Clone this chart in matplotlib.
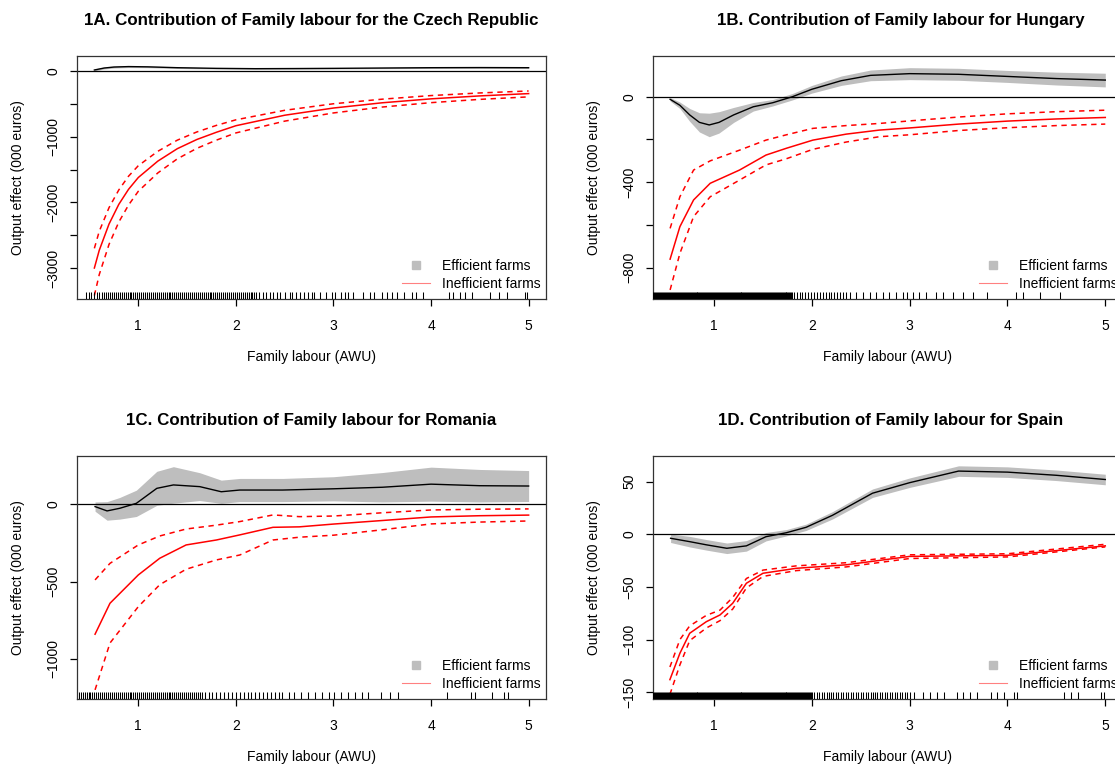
import matplotlib
matplotlib.use("Agg")
import matplotlib.pyplot as plt
from matplotlib.lines import Line2D
import numpy as np

plt.rcParams['font.family'] = ['Liberation Sans', 'DejaVu Sans']

# ---------------- data ----------------
titles = ["1A. Contribution of Family labour for the Czech Republic",
          "1B. Contribution of Family labour for Hungary",
          "1C. Contribution of Family labour for Romania",
          "1D. Contribution of Family labour for Spain"]

# Czech Republic
cz_eff_x = [0.55, 0.65, 0.75, 0.9, 1.1, 1.4, 1.8, 2.2, 2.6, 3.0, 3.5, 4.0, 4.5, 5.0]
cz_eff_y = [20, 50, 65, 72, 68, 55, 45, 40, 42, 45, 50, 55, 57, 55]
cz_eff_lo = [5, 35, 50, 57, 55, 43, 35, 30, 32, 35, 40, 44, 45, 42]
cz_eff_hi = [35, 65, 80, 87, 81, 67, 55, 50, 52, 55, 60, 66, 69, 68]
cz_ineff_x = [0.55, 0.6, 0.7, 0.8, 0.9, 1.0, 1.2, 1.4, 1.6, 1.8, 2.0, 2.5, 3.0, 3.5, 4.0, 4.5, 5.0]
cz_ineff_y = [-3000, -2730, -2330, -2030, -1800, -1620, -1370, -1180, -1040, -930, -830, -670, -560, -480, -420, -375, -340]
cz_ineff_up = [-2700, -2440, -2080, -1810, -1600, -1440, -1220, -1050, -925, -825, -740, -595, -495, -425, -370, -330, -300]
cz_ineff_lo = [-3420, -3100, -2640, -2300, -2040, -1830, -1550, -1335, -1175, -1050, -940, -760, -635, -545, -478, -428, -390]

# Hungary
hu_eff_x = [0.55, 0.65, 0.75, 0.85, 0.95, 1.05, 1.2, 1.4, 1.6, 1.8, 2.0, 2.3, 2.6, 3.0, 3.5, 4.0, 4.5, 5.0]
hu_eff_y = [-12, -40, -85, -120, -132, -120, -85, -47, -28, 0, 35, 75, 100, 108, 105, 95, 85, 78]
hu_eff_hw = [8, 15, 30, 45, 55, 50, 35, 20, 15, 15, 18, 22, 25, 28, 28, 28, 30, 32]
hu_ineff_x = [0.55, 0.65, 0.79, 0.96, 1.26, 1.53, 1.74, 2.01, 2.35, 2.69, 3.0, 3.5, 4.0, 4.5, 5.0]
hu_ineff_y = [-760, -608, -483, -405, -343, -273, -241, -203, -175, -156, -146, -128, -114, -104, -97]
hu_ineff_up = [-616, -468, -343, -300, -250, -203, -178, -148, -135, -125, -113, -95, -80, -70, -63]
hu_ineff_lo = [-904, -733, -561, -468, -390, -319, -290, -246, -212, -187, -178, -158, -145, -135, -128]

# Romania
ro_eff_x = [0.557, 0.68, 0.81, 0.98, 1.19, 1.36, 1.63, 1.85, 2.04, 2.48, 3.0, 3.5, 4.0, 4.5, 5.0]
ro_eff_y = [-15, -43, -26, 6, 103, 125, 114, 81, 92, 92, 100, 110, 130, 120, 118]
ro_eff_hw = [30, 60, 70, 85, 110, 118, 90, 75, 75, 75, 78, 95, 110, 105, 100]
ro_ineff_x = [0.557, 0.71, 1.0, 1.22, 1.49, 1.80, 2.04, 2.38, 2.65, 3.0, 3.5, 4.0, 4.5, 5.0]
ro_ineff_y = [-840, -640, -457, -349, -263, -231, -198, -149, -146, -128, -105, -82, -74, -70]
ro_ineff_up = [-489, -382, -263, -205, -160, -135, -112, -69, -80, -76, -55, -37, -32, -30]
ro_ineff_lo = [-1200, -897, -662, -520, -420, -360, -328, -231, -213, -200, -165, -127, -115, -108]

# Spain
es_eff_x = [0.555, 0.75, 0.92, 1.13, 1.33, 1.53, 1.74, 1.94, 2.21, 2.62, 3.0, 3.5, 4.0, 4.5, 5.0]
es_eff_y = [-3.8, -7, -10, -13.3, -11, -2.3, 1.5, 6.6, 18, 39, 49, 60, 59, 56, 52]
es_eff_hw = [4, 5, 5, 5, 5, 4, 3, 3, 3.5, 4, 4.5, 5, 5, 5, 5]
es_ineff_x = [0.548, 0.65, 0.75, 0.92, 1.06, 1.19, 1.33, 1.5, 1.84, 2.35, 3.0, 4.0, 5.0]
es_ineff_y = [-138, -113, -94, -83, -76.6, -65.5, -46.5, -37, -32.3, -29, -21, -20, -11]
es_ineff_up = [-126, -100, -87, -77, -72, -60, -42, -34, -30, -27, -19.5, -18.5, -9.5]
es_ineff_lo = [-152, -124, -101, -89, -82, -71, -51, -40, -34.5, -31, -23, -21.5, -12]

# rug (observed family labour values)
cz_rug = [float(v) for v in (
    "0.46 0.49 0.52 0.55 0.58 0.60 0.63 0.65 0.67 0.69 0.71 0.73 0.75 0.77 0.79 0.81 0.83 0.85 0.87 0.89 0.91 0.93 0.95 "
    "0.97 0.99 1.01 1.03 1.05 1.07 1.09 1.11 1.13 1.15 1.17 1.19 1.21 1.23 1.25 1.27 1.29 1.31 1.33 1.35 1.37 1.39 "
    "1.41 1.43 1.45 1.47 1.49 1.51 1.53 1.55 1.57 1.59 1.61 1.63 1.65 1.67 1.69 1.71 1.73 1.75 1.77 1.79 1.81 1.83 "
    "1.85 1.87 1.89 1.91 1.93 1.95 1.97 1.99 2.01 2.03 2.05 2.07 2.09 2.11 2.13 2.15 2.17 2.19 2.21 "
    "2.24 2.28 2.31 2.35 2.38 2.42 2.45 2.50 2.55 2.58 2.62 2.66 2.70 2.74 2.78 2.80 2.86 2.92 2.98 3.02 3.08 3.12 "
    "3.15 3.20 3.30 3.37 3.42 3.50 3.55 3.60 3.65 3.72 3.80 3.85 3.92 4.18 4.22 4.30 4.35 4.42 4.60 4.70 4.78 4.96 4.98"
).split()]
hu_rug = [float(v) for v in (
    "0.38 0.39 0.40 0.41 0.42 0.43 0.44 0.45 0.46 0.47 0.48 0.49 0.50 0.51 0.52 0.53 0.54 0.55 0.56 0.57 0.58 0.59 "
    "0.60 0.61 0.62 0.63 0.64 0.65 0.66 0.67 0.68 0.69 0.70 0.71 0.72 0.73 0.74 0.75 0.76 0.77 0.78 0.79 0.80 0.81 "
    "0.82 0.83 0.84 0.85 0.86 0.87 0.88 0.89 0.90 0.91 0.92 0.93 0.94 0.95 0.96 0.97 0.98 0.99 1.00 1.01 1.02 1.03 "
    "1.04 1.05 1.06 1.07 1.08 1.09 1.10 1.11 1.12 1.13 1.14 1.15 1.16 1.17 1.18 1.19 1.20 1.21 1.22 1.23 1.24 1.25 "
    "1.26 1.27 1.28 1.29 1.30 1.31 1.32 1.33 1.34 1.35 1.36 1.37 1.38 1.39 1.40 1.41 1.42 1.43 1.44 1.45 1.46 1.47 "
    "1.48 1.49 1.50 1.51 1.52 1.53 1.54 1.55 1.56 1.57 1.58 1.59 1.60 1.61 1.62 1.63 1.64 1.65 1.66 1.67 1.68 1.69 "
    "1.70 1.71 1.72 1.73 1.74 1.75 1.76 1.77 1.78 1.79 1.80 "
    "1.82 1.85 1.88 1.90 1.93 1.96 1.99 2.02 2.05 2.08 2.11 2.14 2.17 2.20 2.23 2.26 2.29 2.32 "
    "2.35 2.385 2.45 2.52 2.59 2.66 2.73 2.79 2.86 2.93 2.97 3.03 3.10 3.17 3.27 3.34 3.44 3.55 3.65 3.79 4.09 4.16 4.33 4.54"
).split()]
ro_rug = [float(v) for v in (
    "0.39 0.41 0.43 0.45 0.47 0.49 0.51 0.53 0.55 0.57 0.59 0.61 0.63 0.65 0.67 0.69 0.71 0.73 0.75 0.77 0.79 0.81 "
    "0.83 0.85 0.87 0.89 0.91 0.93 0.95 0.97 0.99 1.01 1.03 1.05 1.07 1.09 1.11 1.13 1.15 1.17 1.19 1.21 1.23 1.25 "
    "1.27 1.29 1.31 1.33 1.35 1.37 1.39 1.41 1.43 1.45 1.47 1.49 1.51 1.53 1.55 1.57 1.59 1.61 1.63 1.65 "
    "1.68 1.72 1.76 1.80 1.84 1.88 1.92 1.96 2.00 2.04 2.08 2.12 2.16 2.20 2.24 2.28 2.32 2.36 2.40 2.44 "
    "2.47 2.54 2.60 2.67 2.74 2.81 2.88 2.95 3.01 3.08 3.15 3.22 3.29 3.35 3.49 3.58 3.66 4.16 4.41 4.45 4.62 4.75 4.79"
).split()]
es_rug = [float(v) for v in (
    "0.38 0.39 0.40 0.41 0.42 0.43 0.44 0.45 0.46 0.47 0.48 0.49 0.50 0.51 0.52 0.53 0.54 0.55 0.56 0.57 0.58 0.59 "
    "0.60 0.61 0.62 0.63 0.64 0.65 0.66 0.67 0.68 0.69 0.70 0.71 0.72 0.73 0.74 0.75 0.76 0.77 0.78 0.79 0.80 0.81 "
    "0.82 0.83 0.84 0.85 0.86 0.87 0.88 0.89 0.90 0.91 0.92 0.93 0.94 0.95 0.96 0.97 0.98 0.99 1.00 1.01 1.02 1.03 "
    "1.04 1.05 1.06 1.07 1.08 1.09 1.10 1.11 1.12 1.13 1.14 1.15 1.16 1.17 1.18 1.19 1.20 1.21 1.22 1.23 1.24 1.25 "
    "1.26 1.27 1.28 1.29 1.30 1.31 1.32 1.33 1.34 1.35 1.36 1.37 1.38 1.39 1.40 1.41 1.42 1.43 1.44 1.45 1.46 1.47 "
    "1.48 1.49 1.50 1.51 1.52 1.53 1.54 1.55 1.56 1.57 1.58 1.59 1.60 1.61 1.62 1.63 1.64 1.65 1.66 1.67 1.68 1.69 "
    "1.70 1.71 1.72 1.73 1.74 1.75 1.76 1.77 1.78 1.79 1.80 1.81 1.82 1.83 1.84 1.85 1.86 1.87 1.88 1.89 1.90 1.91 "
    "1.92 1.93 1.94 1.95 1.96 1.97 1.98 1.99 2.00 "
    "2.02 2.05 2.07 2.10 2.12 2.15 2.17 2.20 2.22 2.25 2.27 2.30 2.32 2.35 2.37 2.40 2.42 2.45 2.47 2.50 2.52 2.55 "
    "2.57 2.60 2.62 2.65 2.67 2.70 2.72 2.75 2.77 2.80 2.82 2.85 2.87 2.90 2.92 2.95 2.97 3.00 "
    "3.04 3.14 3.21 3.28 3.35 3.48 3.55 3.62 3.69 3.83 3.89 3.96 4.07 4.10 4.58 4.65 4.72 4.96 4.99"
).split()]

x_ticks = [1, 2, 3, 4, 5]
cz_yticks = [0, -500, -1000, -1500, -2000, -2500, -3000]
cz_ylabels = ["0", "", "\u22121000", "", "\u22122000", "", "\u22123000"]
hu_yticks = [0, -200, -400, -600, -800]
hu_ylabels = ["0", "", "\u2212400", "", "\u2212800"]
ro_yticks = [0, -500, -1000]
ro_ylabels = ["0", "\u2212500", "\u22121000"]
es_yticks = [50, 0, -50, -100, -150]
es_ylabels = ["50", "0", "\u221250", "\u2212100", "\u2212150"]

# ---------------- figure ----------------
W, H = 1115, 769
fig = plt.figure(figsize=(W / 100, H / 100), dpi=100)

def px_axes(left, top, right, bottom):
    return fig.add_axes([left / W, 1 - bottom / H, (right - left) / W, (bottom - top) / H])

GREY = '#bebebe'
FS = 10

panels = [
    dict(box=(77, 55.7, 546, 298.7), ylim=(-3468, 238), title_x=0.5,
         ex=cz_eff_x, ey=cz_eff_y, elo=cz_eff_lo, ehi=cz_eff_hi,
         ix=cz_ineff_x, iy=cz_ineff_y, iup=cz_ineff_up, ilo=cz_ineff_lo,
         rug=cz_rug, yt=cz_yticks, yl=cz_ylabels),
    dict(box=(652.7, 55.7, 1122.7, 298.7), ylim=(-945, 192), title_x=0.528,
         ex=hu_eff_x, ey=hu_eff_y, elo=[a - b for a, b in zip(hu_eff_y, hu_eff_hw)],
         ehi=[a + b for a, b in zip(hu_eff_y, hu_eff_hw)],
         ix=hu_ineff_x, iy=hu_ineff_y, iup=hu_ineff_up, ilo=hu_ineff_lo,
         rug=hu_rug, yt=hu_yticks, yl=hu_ylabels),
    dict(box=(77, 455.7, 546, 698.7), ylim=(-1257, 314), title_x=0.5,
         ex=ro_eff_x, ey=ro_eff_y, elo=[a - b for a, b in zip(ro_eff_y, ro_eff_hw)],
         ehi=[a + b for a, b in zip(ro_eff_y, ro_eff_hw)],
         ix=ro_ineff_x, iy=ro_ineff_y, iup=ro_ineff_up, ilo=ro_ineff_lo,
         rug=ro_rug, yt=ro_yticks, yl=ro_ylabels),
    dict(box=(652.7, 455.7, 1122.7, 698.7), ylim=(-156.1, 74.6), title_x=0.507,
         ex=es_eff_x, ey=es_eff_y, elo=[a - b for a, b in zip(es_eff_y, es_eff_hw)],
         ehi=[a + b for a, b in zip(es_eff_y, es_eff_hw)],
         ix=es_ineff_x, iy=es_ineff_y, iup=es_ineff_up, ilo=es_ineff_lo,
         rug=es_rug, yt=es_yticks, yl=es_ylabels),
]

for p, title in zip(panels, titles):
    l, t, r, b = p['box']
    ax = px_axes(l, t, r, b)
    wpx, hpx = r - l, b - t
    ax.set_xlim(0.372, 5.178)
    ax.set_ylim(*p['ylim'])

    ax.fill_between(p['ex'], p['elo'], p['ehi'], color=GREY, lw=0, zorder=1)
    ax.plot(p['ex'], p['ey'], color='black', lw=1.0, zorder=3)
    ax.axhline(0, color='black', lw=0.9, zorder=2)
    ax.plot(p['ix'], p['iy'], color='red', lw=1.1, zorder=3)
    ax.plot(p['ix'], p['iup'], color='red', lw=1.1, ls=(0, (3.5, 3)), zorder=3)
    ax.plot(p['ix'], p['ilo'], color='red', lw=1.1, ls=(0, (3.5, 3)), zorder=3)

    ax.vlines(p['rug'], 0, 7 / hpx, transform=ax.get_xaxis_transform(),
              color='black', lw=0.75, zorder=4)

    ax.set_xticks(x_ticks)
    ax.set_xticklabels([str(v) for v in x_ticks])
    ax.set_yticks(p['yt'])
    ax.set_yticklabels(p['yl'], rotation=90, va='center')
    ax.tick_params(axis='both', direction='out', length=5, width=0.9,
                   labelsize=FS, color='black')
    ax.tick_params(axis='x', pad=9.5)
    ax.tick_params(axis='y', pad=7)
    for s in ax.spines.values():
        s.set_linewidth(0.9)
        s.set_color('#333333')

    ax.text(p['title_x'], 1 + 35 / hpx, title, transform=ax.transAxes,
            ha='center', va='center', fontsize=12.2, fontweight='bold')
    ax.text(0.5, -58 / hpx, "Family labour (AWU)", transform=ax.transAxes,
            ha='center', va='center', fontsize=FS)
    ax.text(-59 / wpx, 0.5, "Output effect (000 euros)", transform=ax.transAxes,
            ha='center', va='center', rotation=90, fontsize=FS)

    handles = [Line2D([], [], marker='s', color=GREY, ls='none', markersize=6),
               Line2D([], [], color='#ff8080', lw=0.8)]
    ax.legend(handles, ["Efficient farms", "Inefficient farms"],
              loc='lower right', bbox_to_anchor=(1 - 5 / wpx, 8 / hpx),
              frameon=False, fontsize=FS, borderpad=0, borderaxespad=0,
              labelspacing=0.25, handlelength=2.0, handletextpad=0.9)

fig.savefig("out.png", dpi=100)
